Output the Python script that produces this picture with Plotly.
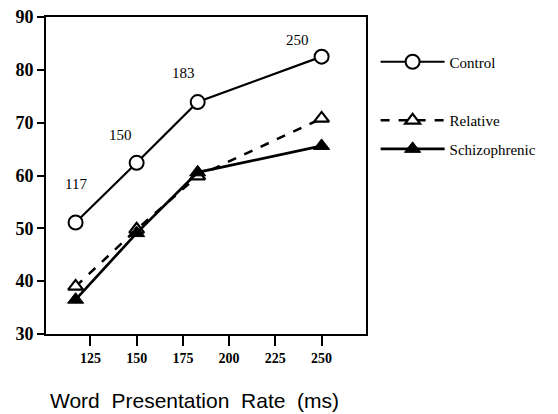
import plotly.graph_objects as go

rates = [117, 150, 183, 250]
control = [51.1, 62.4, 73.9, 82.5]
relative = [39.0, 49.8, 59.9, 70.8]
schizophrenic = [36.5, 49.1, 60.6, 65.6]
x_ticks = [125, 150, 175, 200, 225, 250]
y_ticks = [30, 40, 50, 60, 70, 80, 90]
rate_labels = ["117", "150", "183", "250"]
label_y = [58.3, 67.6, 79.4, 85.6]
label_x = [117, 141.4, 175.5, 237.2]

serif = "Liberation Serif"

fig = go.Figure()
fig.add_trace(go.Scatter(
    x=rates, y=control, name="Control", mode="lines+markers",
    line=dict(color="black", width=2.2),
    marker=dict(symbol="circle", size=14, color="white", line=dict(color="black", width=2)),
    legend="legend",
))
fig.add_trace(go.Scatter(
    x=rates, y=relative, name="Relative", mode="lines+markers",
    line=dict(color="black", width=2.5, dash="dash"),
    marker=dict(symbol="triangle-up", size=13, color="white", line=dict(color="black", width=2.2)),
    legend="legend2", legendgroup="r",
))
fig.add_trace(go.Scatter(
    x=rates, y=schizophrenic, name="Schizophrenic", mode="lines+markers",
    line=dict(color="black", width=2.7),
    marker=dict(symbol="triangle-up", size=14, color="black", line=dict(color="black", width=1)),
    legend="legend2", legendgroup="s",
))

for lx, ly, t in zip(label_x, label_y, rate_labels):
    fig.add_annotation(x=lx, y=ly, text=t, showarrow=False,
                       font=dict(family=serif, size=15, color="black"))

fig.add_annotation(xref="paper", yref="paper", x=0.464, y=-0.211,
                   xanchor="center", yanchor="middle", showarrow=False,
                   text="Word&nbsp; Presentation&nbsp; Rate&nbsp; (ms)",
                   font=dict(family="Liberation Sans", size=21, color="black"))

# the page body has an 8px default margin, so the figure is sized/offset to compensate
fig.update_layout(
    width=550, height=406,
    margin=dict(l=38, r=192, t=9, b=80),
    paper_bgcolor="white", plot_bgcolor="white",
    showlegend=True,
    legend=dict(x=1.03, y=0.858, xanchor="left", yanchor="middle",
                font=dict(family=serif, size=15, color="black"),
                itemwidth=64, bgcolor="rgba(0,0,0,0)"),
    legend2=dict(x=1.03, y=0.629, xanchor="left", yanchor="middle",
                 font=dict(family=serif, size=15, color="black"),
                 itemwidth=64, tracegroupgap=6, bgcolor="rgba(0,0,0,0)"),
    xaxis=dict(range=[101, 274], tickvals=x_ticks, ticktext=[str(v) for v in x_ticks],
               automargin=False, ticklabeloverflow="allow",
               showgrid=False, zeroline=False, showline=True, linecolor="black", linewidth=2,
               mirror=True, ticks="outside", ticklen=10, tickwidth=2, tickcolor="black",
               tickfont=dict(family=serif, size=14, color="black", weight="bold")),
    yaxis=dict(range=[30, 90], tickvals=y_ticks, automargin=False, ticklabeloverflow="allow",
               showgrid=False, zeroline=False, showline=True, linecolor="black", linewidth=2,
               mirror=True, ticks="outside", ticklen=7, tickwidth=2, tickcolor="black",
               tickfont=dict(family=serif, size=18, color="black", weight="bold")),
)

fig.write_html("out.html")
